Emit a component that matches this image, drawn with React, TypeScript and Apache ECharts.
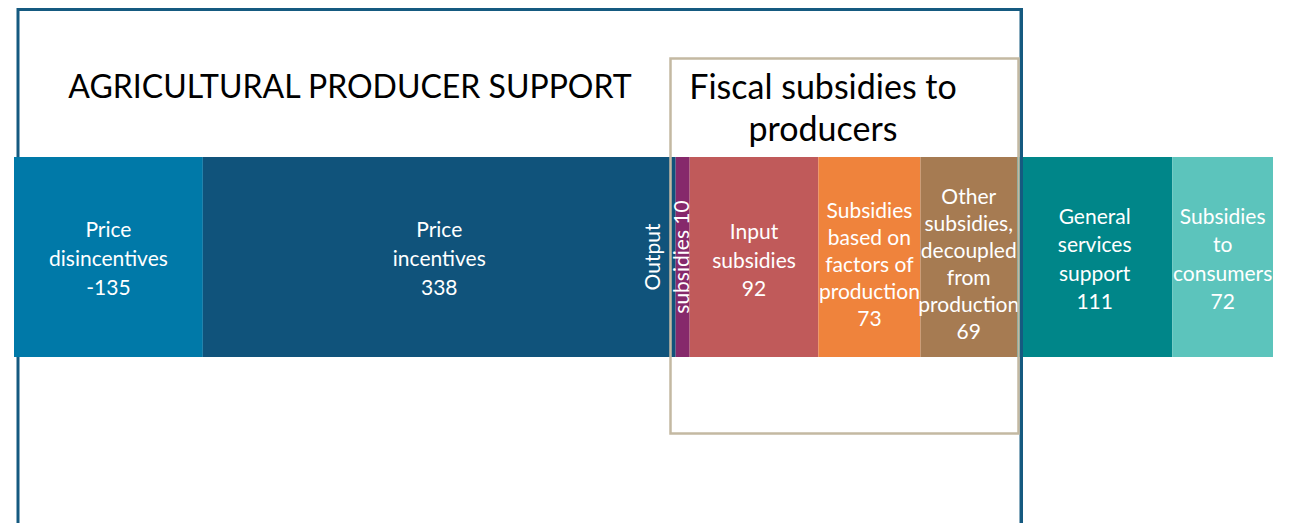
import React, { useEffect, useRef } from "react";
import * as echarts from "echarts";

const categories = [
  "Price\ndisincentives",
  "Price\nincentives",
  "Output\nsubsidies",
  "Input\nsubsidies",
  "Subsidies\nbased on\nfactors of\nproduction",
  "Other\nsubsidies,\ndecoupled\nfrom\nproduction",
  "General\nservices\nsupport",
  "Subsidies\nto\nconsumers",
];
const values = [-135, 338, 10, 92, 73, 69, 111, 72];
const colors = ["#0079A8", "#10537B", "#86296B", "#C05A5A", "#EF833C", "#A67B52", "#008689", "#5CC4BC"];
const lineHeights = [29, 29, 29, 28.5, 27, 27, 28.5, 28.5];
const labelOffsets = [
  [0, 0],
  [0, 0],
  [0, -17],
  [0, 2],
  [0, 6],
  [0, 6],
  [0, 1],
  [0, 1],
];
const mainTitle = "AGRICULTURAL PRODUCER SUPPORT";
const boxTitle = "Fiscal subsidies to\nproducers";

const FONT = "Lato";

export default function App() {
  const ref = useRef<HTMLDivElement>(null);
  useEffect(() => {
    if (!ref.current) return;
    const chart = echarts.init(ref.current, null, { renderer: "svg" });
    const total = values.reduce((s, v) => s + Math.abs(v), 0);
    const series = values.map((v, i) => {
      const isOutput = i === 2;
      return {
        type: "bar",
        name: categories[i],
        stack: "all",
        barWidth: 200,
        data: [Math.abs(v)],
        itemStyle: { color: colors[i] },
        z: 5,
        label: {
          show: true,
          position: "inside",
          color: "#ffffff",
          fontFamily: FONT,
          fontSize: 21,
          lineHeight: lineHeights[i],
          align: "center",
          verticalAlign: "middle",
          rotate: isOutput ? 90 : 0,
          offset: labelOffsets[i],
          formatter: isOutput ? categories[i] + " " + v : categories[i] + "\n" + v,
        },
      };
    });
    chart.setOption({
      animation: false,
      grid: { left: 14, top: 157, width: 1259, height: 200 },
      xAxis: { type: "value", min: 0, max: total, show: false },
      yAxis: { type: "category", data: ["support"], show: false },
      series,
      graphic: [
        {
          type: "rect",
          z: -10,
          shape: { x: 18, y: 9.5, width: 1003, height: 560 },
          style: { fill: "none", stroke: "#155A80", lineWidth: 3 },
        },
        {
          type: "line",
          z: 100,
          shape: { x1: 1021.5, y1: 8, x2: 1021.5, y2: 523 },
          style: { stroke: "#155A80", lineWidth: 3 },
        },
        {
          type: "rect",
          z: 100,
          shape: { x: 670.5, y: 58.5, width: 348, height: 375 },
          style: { fill: "none", stroke: "#C4B9A2", lineWidth: 2.5 },
        },
        {
          type: "text",
          z: 100,
          x: 350,
          y: 85,
          style: {
            text: mainTitle,
            fill: "#000000",
            fontFamily: FONT,
            fontSize: 32,
            align: "center",
            verticalAlign: "middle",
          },
        },
        {
          type: "text",
          z: 100,
          x: 823,
          y: 106,
          style: {
            text: boxTitle,
            fill: "#000000",
            fontFamily: FONT,
            fontSize: 34,
            lineHeight: 42,
            align: "center",
            verticalAlign: "middle",
          },
        },
      ],
    });
    return () => chart.dispose();
  }, []);
  return (
    <div
      ref={ref}
      style={{ position: "fixed", left: 0, top: 0, width: 1291, height: 523, background: "#ffffff" }}
    />
  );
}
